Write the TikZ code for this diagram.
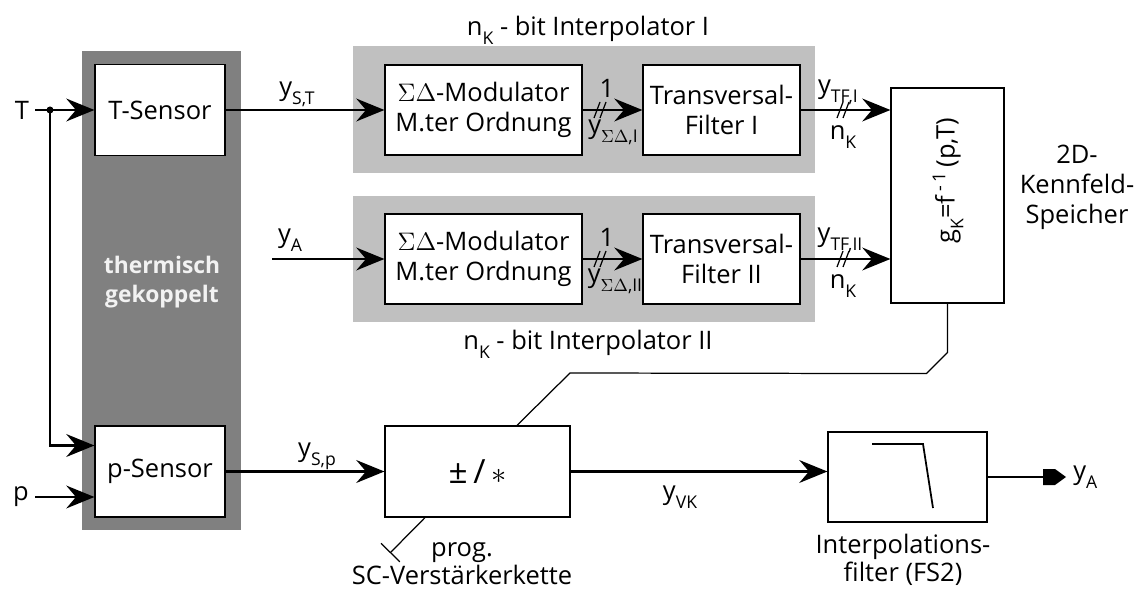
\documentclass[tikz,border=0pt]{standalone}
\usepackage{fontspec}
\setmainfont{Open Sans}
\usetikzlibrary{positioning,calc,arrows.meta}
\definecolor{coupledgray}{RGB}{128,128,128}
\definecolor{interpgray}{RGB}{192,192,192}
\definecolor{labelwhite}{RGB}{242,242,242}
\newcommand{\lowidx}[1]{\raisebox{-0.65ex}{\fontsize{10}{10}\selectfont #1}}

\begin{document}
\begin{tikzpicture}[x=0.02cm, y=-0.02cm,
    font=\fontsize{14.5}{17}\selectfont,
    block/.style={rectangle, draw, fill=white, line width=0.7pt, inner sep=0pt, align=center},
    sensor/.style={block, minimum width=2.6cm, minimum height=1.82cm},
    modbox/.style={block, minimum width=3.94cm, minimum height=1.8cm},
    tfbox/.style={block, minimum width=3.14cm, minimum height=1.8cm},
    interp/.style={rectangle, fill=interpgray, minimum width=9.24cm, minimum height=2.53cm, inner sep=0pt},
    sig/.style={line width=1.2pt, -{Stealth[length=16pt, width=13pt, inset=5.5pt]}},
    wire/.style={line width=1.2pt},
    thinwire/.style={line width=0.7pt},
    lbl/.style={inner sep=1pt}
]
    \useasboundingbox (0,0) rectangle (1143,591);

    % Background areas
    \node[rectangle, fill=coupledgray, minimum width=3.18cm, minimum height=9.58cm, inner sep=0pt] (tk) at (161.5,290.5) {};
    \node[font=\fontsize{13}{16.5}\selectfont\bfseries, text=labelwhite, align=center] (tktext) at (162,282) {thermisch\\gekoppelt};
    \node[interp] (ip1) at (584,109.5) {};
    \node[interp] (ip2) at (584,259) {};
    \node (ip1lbl) at (588,30) {n\lowidx{K} - bit Interpolator I};
    \node (ip2lbl) at (588,344) {n\lowidx{K} - bit Interpolator II};

    % Sensors
    \node[sensor] (tsens) at (160,110) {T-Sensor};
    \node[sensor] (psens) at (160,471.5) {p-Sensor};
    \node (T) at (22,110) {T};
    \node (p) at (21,497) {p};
    \coordinate (jT) at (50,110);

    % Interpolators
    \node[modbox] (mod1) at (483.5,110) {$\Sigma\Delta$-Modulator\\M.ter Ordnung};
    \node[tfbox] (tf1) at (721.5,110) {Transversal-\\Filter I};
    \node[modbox] (mod2) at (483.5,259) {$\Sigma\Delta$-Modulator\\M.ter Ordnung};
    \node[tfbox] (tf2) at (721.5,259) {Transversal-\\Filter II};
    \coordinate (yain) at (272,259);

    % Kennfeld memory
    \node[block, minimum width=2.26cm, minimum height=4.3cm] (gk) at (947.5,195.5) {};
    \node[rotate=90] (gktext) at (948,181) {g\lowidx{K}=f\,\textsuperscript{-\,1}\,(p,T)};
    \node[align=center] (kenn) at (1077,187) {2D-\\Kennfeld-\\Speicher};

    % Amplifier and output filter
    \node[block, minimum width=3.7cm, minimum height=1.82cm, font=\fontsize{19}{19}\selectfont] (pm) at (477.5,471.5) {±\,/\,$\ast$};
    \node[align=center, font=\fontsize{14.5}{16}\selectfont] (sclbl) at (462,564) {prog.\\SC-Verstärkerkette};
    \coordinate (sc) at (390,553);
    \node[block, minimum width=3.18cm, minimum height=1.8cm] (filt) at (907.5,477) {};
    \draw[line width=1pt] (872,444) -- (923,444) -- (933,508);
    \node[align=center, font=\fontsize{14.5}{16}\selectfont] (filtlbl) at (903,560) {Interpolations-\\filter (FS2)};
    \coordinate (yaout) at (1066,477);

    % Signal flow
    \draw[sig] (T) -- (tsens);
    \fill (jT) circle (2pt);
    \draw[sig] (jT) |- ($(psens.west)+(0,-26)$);
    \draw[sig] (p) -- (p -| psens.west);
    \draw[sig] (tsens) -- (mod1);
    \draw[sig] (yain) -- (mod2);
    \draw[sig] (mod1) -- (tf1);
    \draw[sig] (mod2) -- (tf2);
    \draw[sig] (tf1) -- (tf1 -| gk.west);
    \draw[sig] (tf2) -- (tf2 -| gk.west);
    \draw[thinwire] (gk.south) -- ++(0,49) -- ++(-21,21) -- (570,373) -- ($(pm.north)+(39.5,0)$);
    \draw[sig] (psens) -- (pm);
    \draw[thinwire, -{Bar[width=15pt]}] ($(pm.south)+(-52.5,0)$) -- (sc);
    \draw[sig] (pm) -- (pm -| filt.west);
    \draw[wire] (filt) -- ($(yaout)+(-20,0)$);
    \fill ($(yaout)+(-23,-8)$) -- ++(12,0) -- (yaout) -- ($(yaout)+(-11,8)$) -- ++(-12,0) -- cycle;

    % Bus marks
    \coordinate (b1) at (600,110);
    \coordinate (b2) at (600,259);
    \coordinate (b3) at (843,110);
    \coordinate (b4) at (843,259);
    \foreach \b in {b1,b2,b3,b4}
        \draw[thinwire] ($(\b)+(-6,8)$) -- ($(\b)+(0,-8)$) ($(\b)+(0,8)$) -- ($(\b)+(6,-8)$);

    % Signal labels
    \node[lbl] (lst) at (297,94) {y\lowidx{S,T}};
    \node[lbl] (lyain) at (290,240) {y\lowidx{A}};
    \node[lbl] (lone1) at (607,88) {1};
    \node[lbl] (lsd1) at (613,132) {y\lowidx{$\Sigma\Delta$,I}};
    \node[lbl] (lone2) at (607,237) {1};
    \node[lbl] (lsd2) at (615,281) {y\lowidx{$\Sigma\Delta$,II}};
    \node[lbl] (ltf1) at (838,92) {y\lowidx{TF,I}};
    \node[lbl] (lnk1) at (843,137) {n\lowidx{K}};
    \node[lbl] (ltf2) at (840,240) {y\lowidx{TF,II}};
    \node[lbl] (lnk2) at (843,286) {n\lowidx{K}};
    \node[lbl] (lsp) at (317,456) {y\lowidx{S,p}};
    \node[lbl] (lvk) at (680,497) {y\lowidx{VK}};
    \node[lbl, right=3pt of yaout] (lyaout) {y\lowidx{A}};
\end{tikzpicture}
\end{document}
